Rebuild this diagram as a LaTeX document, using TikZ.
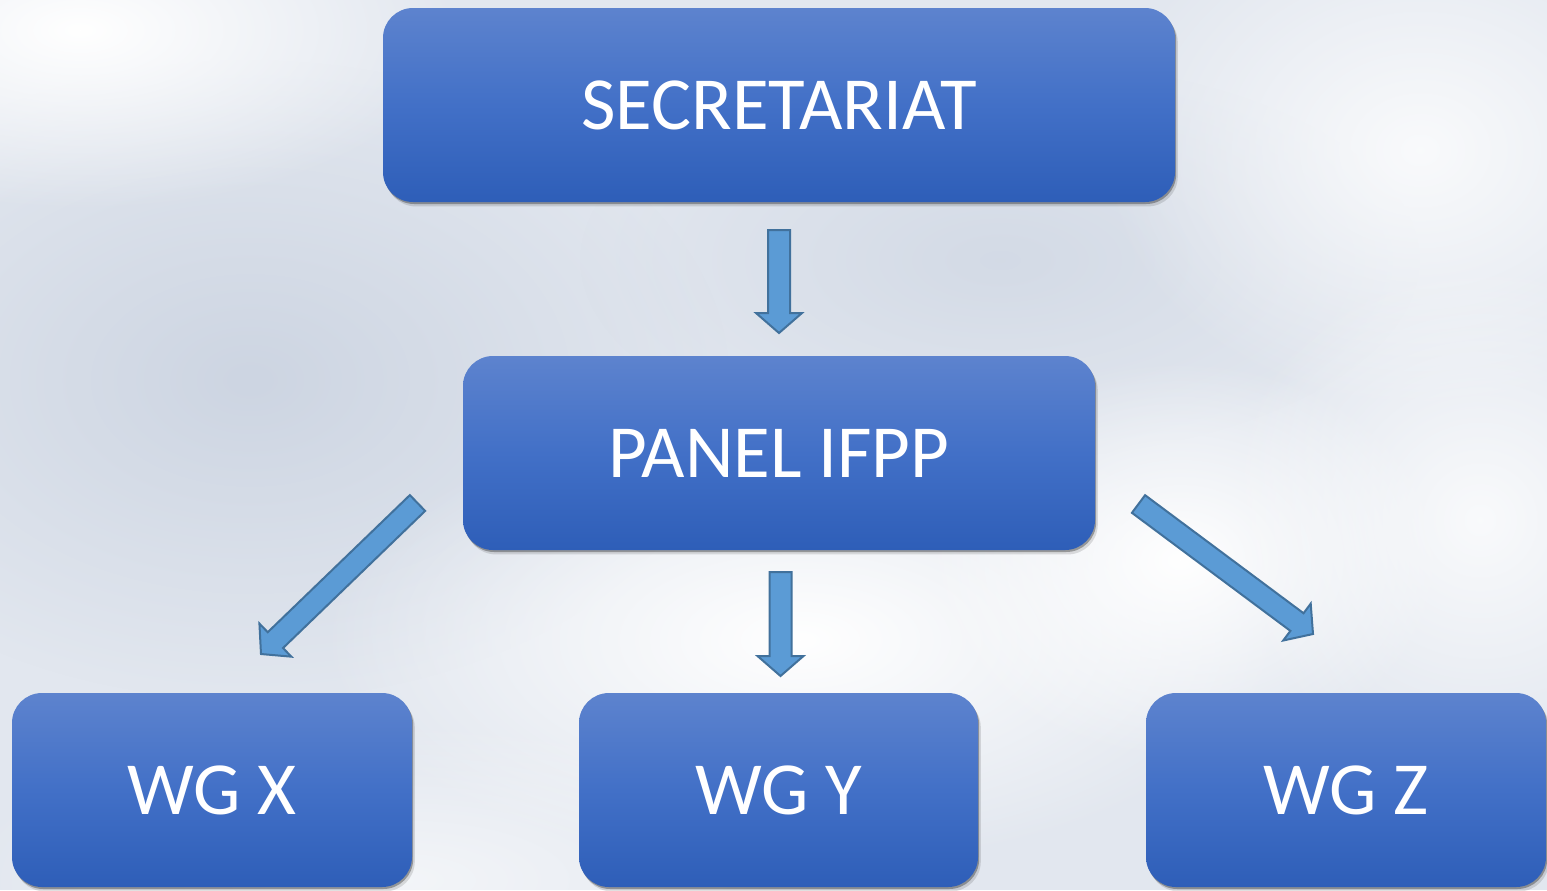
\documentclass[tikz,border=0pt]{standalone}
\usepackage{fontspec}
\setmainfont{Carlito}
\usetikzlibrary{calc,shadows,fadings}
\definecolor{boxtop}{HTML}{5D83CE}
\definecolor{boxmid}{HTML}{4270C7}
\definecolor{boxbot}{HTML}{2E5EB8}
\definecolor{arrfill}{HTML}{5B9BD5}
\definecolor{arrline}{HTML}{41719C}
\definecolor{skybase}{HTML}{E2E7EF}
\definecolor{skygray}{HTML}{CDD5E2}
\tikzfading[name=softblob, inner color=transparent!0, outer color=transparent!100]
\tikzset{
  box/.style={rectangle, rounded corners=15pt, top color=boxtop, bottom color=boxbot, middle color=boxmid,
    minimum height=97pt, text=white, font=\fontsize{37.5}{44}\selectfont, inner sep=0pt,
    drop shadow={shadow xshift=0.6pt, shadow yshift=-1pt, opacity=0.3, fill=black},
    drop shadow={shadow xshift=1.4pt, shadow yshift=-2.2pt, opacity=0.12, fill=black}},
  barrow/.style={fill=arrfill, draw=arrline, line width=1pt, line join=miter},
  blob/.style={path fading=softblob}
}
\newcommand{\blockarrow}[2]{%
  \coordinate (ba-h) at ($(#2)!10pt!(#1)$);
  \draw[barrow] ($(#1)!5.5pt!90:(#2)$) -- ($(ba-h)!5.5pt!90:(#2)$) -- ($(ba-h)!11.5pt!90:(#2)$)
    -- (#2) -- ($(ba-h)!11.5pt!-90:(#2)$) -- ($(ba-h)!5.5pt!-90:(#2)$) -- ($(#1)!5.5pt!-90:(#2)$) -- cycle;
}
\begin{document}
\begin{tikzpicture}[x=0.5pt,y=0.5pt]
% background sky
\fill[skybase] (0,0) rectangle (1547,-890);
\useasboundingbox (0,0) rectangle (1547,-890);
\begin{scope}
\clip (0,0) rectangle (1547,-890);
\fill[skygray, blob] (250,-380) ellipse (480 and 320);
\fill[skygray, blob, opacity=0.7] (1000,-260) ellipse (420 and 200);
\fill[white, blob] (80,-30) ellipse (380 and 180);
\fill[white, blob, opacity=0.8] (1420,-150) ellipse (320 and 260);
\fill[white, blob] (800,-640) ellipse (480 and 230);
\fill[white, blob] (1180,-560) ellipse (260 and 200);
\fill[white, blob, opacity=0.8] (1480,-520) ellipse (260 and 260);
\fill[white, blob, opacity=0.6] (400,-880) ellipse (450 and 160);
\end{scope}
% boxes
\node[box, minimum width=396pt] (sec) at (779,-105) {SECRETARIAT};
\node[box, minimum width=316pt] (panel) at (779,-453) {PANEL IFPP};
\node[box, minimum width=200pt] (wgx) at (212,-790) {WG X};
\node[box, minimum width=199.5pt] (wgy) at (778.5,-790) {WG Y};
\node[box, minimum width=200pt] (wgz) at (1346,-790) {WG Z};
% arrow end points
\coordinate (a1s) at (779,-230);
\coordinate (a1e) at (779,-333);
\coordinate (a2s) at (780.5,-572);
\coordinate (a2e) at (780.5,-676);
\coordinate (a3s) at (417.5,-503);
\coordinate (a3e) at (261,-654);
\coordinate (a4s) at (1138.5,-504);
\coordinate (a4e) at (1313,-634);
\blockarrow{a1s}{a1e}
\blockarrow{a2s}{a2e}
\blockarrow{a3s}{a3e}
\blockarrow{a4s}{a4e}
\end{tikzpicture}
\end{document}
